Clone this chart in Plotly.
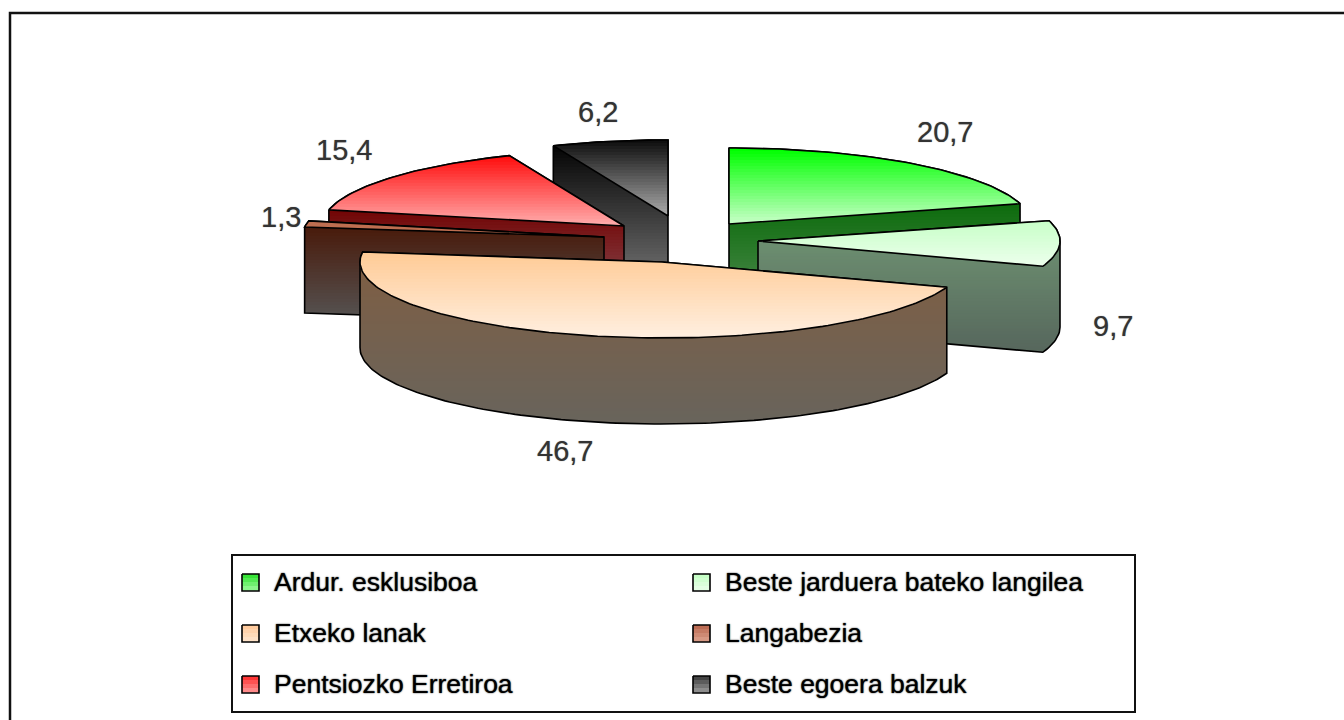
import math
import plotly.graph_objects as go

# ---- data ----
categories = ["Ardur. esklusiboa", "Beste jarduera bateko langilea", "Etxeko lanak",
              "Langabezia", "Pentsiozko Erretiroa", "Beste egoera balzuk"]
values = [20.7, 9.7, 46.7, 1.3, 15.4, 6.2]

# ---- drawing style ----
WIDTH, HEIGHT = 1344, 720
RX, RY, DEPTH = 302, 76, 86
# tip of each exploded slice on the canvas
tips = [(729, 224), (758, 241), (662, 262), (604, 237), (624, 226), (668, 216)]
top_grad = [((0, 255, 0), (205, 255, 205)), ((200, 255, 200), (238, 255, 238)),
            ((255, 203, 150), (255, 240, 226)), ((190, 110, 80), (190, 110, 80)),
            ((255, 15, 15), (255, 178, 178)), ((15, 15, 15), (175, 175, 175))]
side_grad = [((14, 108, 14), (82, 140, 82)), ((108, 142, 112), (86, 102, 92)),
             ((128, 94, 66), (104, 100, 92)), ((72, 24, 8), (86, 86, 86)),
             ((114, 6, 6), (140, 90, 98)), ((5, 5, 5), (130, 130, 130))]
# height at which the side wall of each slice starts to be visible
side_start = [205, 241, 252, 222, 210, 146]
label_pos = [(945, 132), (1113, 326), (565, 451), (281, 217), (344, 150), (598, 112)]
draw_order = [5, 4, 3, 0, 1, 2]
legend_slots = [(242, 582), (693, 582), (242, 633), (693, 633), (242, 684), (693, 684)]
swatch_grad = [((55, 228, 55), (175, 255, 175)), ((198, 255, 198), (240, 255, 240)),
               ((255, 203, 158), (255, 236, 216)), ((188, 108, 84), (226, 172, 152)),
               ((255, 55, 55), (255, 172, 172)), ((68, 68, 68), (172, 172, 172))]
LABEL_FONT = dict(family="Liberation Sans", size=29, color="#333333", shadow="0 0 1px #777777")
LEGEND_FONT = dict(family="Liberation Sans", size=26.5, color="#000000", shadow="0 0 1.5px #000000")


def clip_band(poly, y0, y1):
    def clip(pts, keep, cross):
        out = []
        for i, p in enumerate(pts):
            q = pts[(i + 1) % len(pts)]
            if keep(p):
                out.append(p)
            if keep(p) != keep(q):
                t = (cross - p[1]) / (q[1] - p[1])
                out.append((p[0] + t * (q[0] - p[0]), cross))
        return out
    pts = clip(poly, lambda p: p[1] >= y0, y0)
    if pts:
        pts = clip(pts, lambda p: p[1] <= y1, y1)
    return pts


def hull(points):
    pts = sorted(set(points))
    def half(seq):
        h = []
        for p in seq:
            while len(h) >= 2 and (h[-1][0] - h[-2][0]) * (p[1] - h[-2][1]) - (h[-1][1] - h[-2][1]) * (p[0] - h[-2][0]) <= 0:
                h.pop()
            h.append(p)
        return h[:-1]
    return half(pts) + half(pts[::-1])


def mix(a, b, t):
    t = max(0.0, min(1.0, t))
    return "rgb(%d,%d,%d)" % tuple(round(a[i] + (b[i] - a[i]) * t) for i in range(3))


def close(pts):
    return [p[0] for p in pts] + [pts[0][0]], [p[1] for p in pts] + [pts[0][1]]


fig = go.Figure()


def fill_gradient(poly, grad, step, start=None):
    ys = [p[1] for p in poly]
    lo, hi = min(ys), max(ys)
    g0 = lo if start is None else start
    y = lo
    while y < hi:
        # each band reaches a little under the next one so no seams show
        band = clip_band(poly, y, min(y + step + 1, hi))
        if len(band) >= 3:
            x_, y_ = close(band)
            fig.add_trace(go.Scatter(x=x_, y=y_, mode="lines", fill="toself",
                                     line=dict(width=0), fillcolor=mix(grad[0], grad[1], (y - g0) / (hi - g0)),
                                     hoverinfo="skip", showlegend=False))
        y += step


def outline(poly, width=1.6):
    x_, y_ = close(poly)
    fig.add_trace(go.Scatter(x=x_, y=y_, mode="lines", line=dict(color="#000000", width=width),
                             hoverinfo="skip", showlegend=False))


total = sum(values)
starts, acc = [], 0.0
for v in values:
    starts.append(acc)
    acc += v

for i in draw_order:
    a0 = starts[i] / total * 2 * math.pi
    a1 = (starts[i] + values[i]) / total * 2 * math.pi
    n = max(3, int(values[i] * 3))
    cx, cy = tips[i]
    top = [(cx, cy)] + [(cx + RX * math.sin(a0 + (a1 - a0) * k / n),
                         cy - RY * math.cos(a0 + (a1 - a0) * k / n)) for k in range(n + 1)]
    silhouette = hull(top + [(x, y + DEPTH) for x, y in top])
    fill_gradient(silhouette, side_grad[i], 3, side_start[i])
    outline(silhouette)
    fill_gradient(top, top_grad[i], 3)
    outline(top)

annotations = []
for i, v in enumerate(values):
    annotations.append(dict(x=label_pos[i][0], y=label_pos[i][1], xref="x", yref="y",
                            text=f"{v:.1f}".replace(".", ","), showarrow=False, font=LABEL_FONT))

for i, name in enumerate(categories):
    sx, sy = legend_slots[i]
    square = [(sx, sy - 8), (sx + 17, sy - 8), (sx + 17, sy + 9), (sx, sy + 9)]
    fill_gradient(square, swatch_grad[i], 4)
    outline(square, 1.6)
    annotations.append(dict(x=sx + 30, y=sy, xref="x", yref="y", xanchor="left", text=name,
                            showarrow=False, font=LEGEND_FONT))

shapes = [
    dict(type="rect", xref="x", yref="y", x0=10, y0=13, x1=WIDTH + 20, y1=HEIGHT + 20,
         line=dict(color="#111111", width=2.5), layer="below"),
    dict(type="rect", xref="x", yref="y", x0=232, y0=555, x1=1135, y1=712,
         line=dict(color="#111111", width=2), layer="below"),
]

fig.update_layout(
    width=WIDTH, height=HEIGHT, margin=dict(l=0, r=0, t=0, b=0),
    paper_bgcolor="white", plot_bgcolor="white", showlegend=False,
    xaxis=dict(range=[0, WIDTH], visible=False, fixedrange=True),
    yaxis=dict(range=[HEIGHT, 0], visible=False, fixedrange=True),
    annotations=annotations, shapes=shapes,
)
fig.write_html("out.html", config=dict(displayModeBar=False),
               post_script="document.body.style.margin='0';document.body.style.overflow='hidden';")
